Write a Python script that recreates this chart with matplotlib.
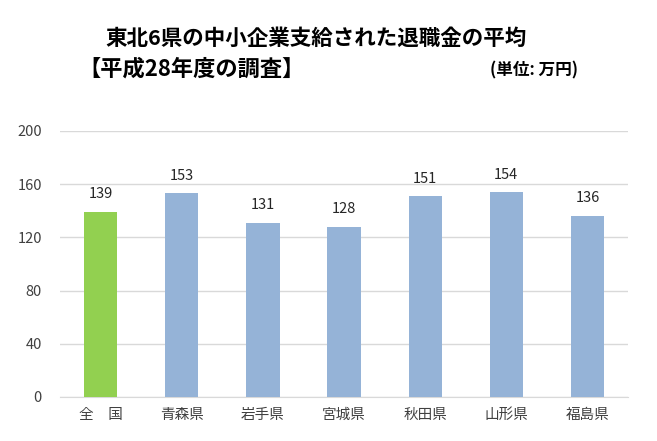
import matplotlib
matplotlib.use("Agg")
import numpy as np
import matplotlib.pyplot as plt

plt.rcParams['font.family'] = ['Noto Sans CJK JP', 'DejaVu Sans']

# data
categories = ['全　国', '青森県', '岩手県', '宮城県', '秋田県', '山形県', '福島県']
values = [139, 153, 131, 128, 151, 154, 136]
colors = ['#92D050'] + ['#95B3D7'] * 6
yticks = [0, 40, 80, 120, 160, 200]

fig = plt.figure(figsize=(6.57, 4.41), dpi=100)
ax = fig.add_axes([0.0913, 0.0998, 0.8647, 0.6032])

x = np.arange(len(categories))
ax.bar(x, values, width=0.41, color=colors, zorder=3)

for xi, v in zip(x, values):
    ax.text(xi, v + 8, str(v), ha='center', va='bottom', fontsize=10.5, color='#262626')

ax.set_xlim(-0.5, len(categories) - 0.5)
ax.set_ylim(0, 200)
ax.set_yticks(yticks)
ax.set_xticks(x)
ax.set_xticklabels(categories, fontsize=10.5, color='#404040')
ax.tick_params(axis='y', labelsize=10.5, colors='#404040', length=0, pad=13)
ax.tick_params(axis='x', length=0, pad=8)
ax.grid(axis='y', color='#D9D9D9', linewidth=1, zorder=0)
for s in ['top', 'right', 'left']:
    ax.spines[s].set_visible(False)
ax.spines['bottom'].set_color('#D9D9D9')

fig.text(105 / 657, 1 - 38 / 441, '東北6県の中小企業支給された退職金の平均',
         fontsize=15.5, fontweight='bold', va='center', ha='left')
fig.text(78 / 657, 1 - 69 / 441, '【平成28年度の調査】',
         fontsize=16, fontweight='bold', va='center', ha='left')
fig.text(490 / 657, 1 - 70 / 441, '(単位: 万円)',
         fontsize=12, fontweight='bold', va='center', ha='left')

plt.savefig('out.png', dpi=100)
